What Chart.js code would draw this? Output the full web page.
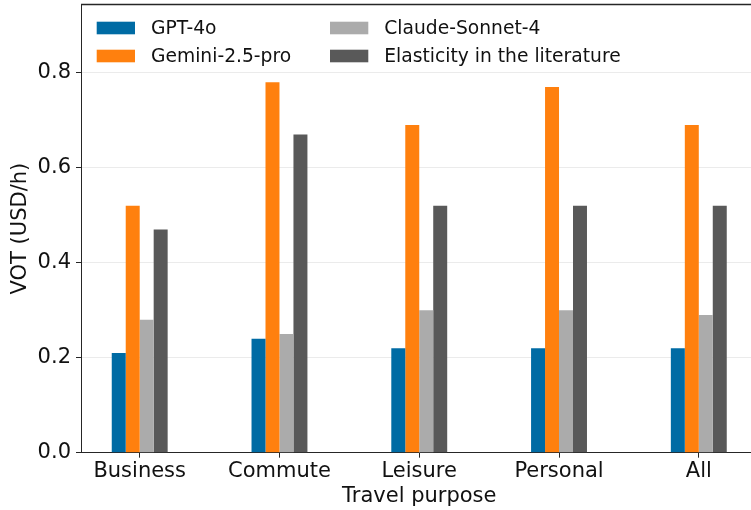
<!DOCTYPE html>
<html>
<head>
<meta charset="utf-8">
<script src="https://cdn.jsdelivr.net/npm/chart.js@4.4.1/dist/chart.umd.min.js"></script>
<style>
  html, body { margin: 0; padding: 0; background: #fff; overflow: hidden; width: 751px; height: 510px; }
  #wrap { width: 800px; height: 510px; }
  canvas { display: block; }
</style>
</head>
<body>
<div id="wrap"><canvas id="c" width="800" height="510"></canvas></div>
<script>
const categories = ["Business", "Commute", "Leisure", "Personal", "All"];
const seriesNames = ["GPT-4o", "Gemini-2.5-pro", "Claude-Sonnet-4", "Elasticity in the literature"];
const gpt4o   = [0.21, 0.24, 0.22, 0.22, 0.22];
const gemini  = [0.52, 0.78, 0.69, 0.77, 0.69];
const claude  = [0.28, 0.25, 0.30, 0.30, 0.29];
const literature = [0.47, 0.67, 0.52, 0.52, 0.52];
const yTicks = [0.0, 0.2, 0.4, 0.6, 0.8];
const colors = ["#006BA4", "#FF800E", "#ABABAB", "#595959"];

const FONT = "'DejaVu Sans', sans-serif";
const allSeries = [gpt4o, gemini, claude, literature];

const datasets = allSeries.map((vals, k) => ({
  label: seriesNames[k],
  data: vals.map((v, i) => ({ x: i, y: v })),
  backgroundColor: colors[k],
  borderWidth: 0,
  categoryPercentage: 0.4,
  barPercentage: 1.0
}));

const legendPlugin = {
  id: 'mplLegend',
  afterDraw(chart) {
    const ctx = chart.ctx;
    ctx.save();
    ctx.font = "18.7px " + FONT;
    ctx.textBaseline = 'alphabetic';
    ctx.textAlign = 'left';
    // column-major ordering like matplotlib ncol=2
    const cols = [[0, 1], [2, 3]];
    const colX = [96.7, 330];
    const rowBase = [34.3, 62.3];
    cols.forEach((col, ci) => {
      col.forEach((di, ri) => {
        const x = colX[ci], b = rowBase[ri];
        ctx.fillStyle = colors[di];
        ctx.fillRect(x, b - 12.6, 38.3, 12.6);
        ctx.fillStyle = '#111';
        ctx.fillText(seriesNames[di], x + 54.3, b);
      });
    });
    // top spine
    const a = chart.chartArea;
    ctx.strokeStyle = '#262626';
    ctx.lineWidth = 1.3;
    ctx.beginPath();
    ctx.moveTo(a.left, a.top);
    ctx.lineTo(a.right, a.top);
    ctx.stroke();
    ctx.restore();
  }
};

new Chart(document.getElementById('c'), {
  type: 'bar',
  data: { datasets },
  plugins: [legendPlugin],
  options: {
    responsive: false,
    animation: false,
    events: [],
    layout: { padding: { top: 4.5, right: 42.5, left: 0, bottom: 0 } },
    plugins: { legend: { display: false }, tooltip: { enabled: false } },
    scales: {
      x: {
        type: 'linear',
        min: -0.42,
        max: 4.42,
        offset: false,
        z: 1,
        afterBuildTicks(scale) { scale.ticks = categories.map((c, i) => ({ value: i })); },
        afterFit(scale) { scale.height = 57.3; scale.paddingLeft = 0; scale.paddingRight = 0; },
        ticks: {
          callback: (v) => categories[v] !== undefined ? categories[v] : '',
          font: { family: FONT, size: 21 },
          color: '#111',
          padding: 1,
          maxRotation: 0,
          autoSkip: false
        },
        grid: { offset: false, drawOnChartArea: false, drawTicks: true, tickLength: 5, tickColor: '#262626' },
        border: { display: true, color: '#262626', width: 1 },
        title: {
          display: true,
          text: 'Travel purpose',
          font: { family: FONT, size: 21 },
          color: '#111',
          padding: { top: 0, bottom: 1 }
        }
      },
      y: {
        min: 0,
        max: 0.944,
        z: 1,
        afterBuildTicks(scale) { scale.ticks = yTicks.map(v => ({ value: v })); },
        afterFit(scale) { scale.width = 81; scale.paddingTop = 0; scale.paddingBottom = 0; },
        ticks: {
          callback: (v) => Number(v).toFixed(1),
          font: { family: FONT, size: 21 },
          color: '#111',
          padding: 5,
          includeBounds: false
        },
        grid: { color: 'rgba(176,176,176,0.25)', lineWidth: 1, tickLength: 5, tickColor: '#262626' },
        border: { display: true, color: '#262626', width: 1 },
        title: {
          display: true,
          text: 'VOT (USD/h)',
          font: { family: FONT, size: 21 },
          color: '#111',
          padding: { top: 8, bottom: 0 }
        }
      }
    }
  }
});
</script>
</body>
</html>
